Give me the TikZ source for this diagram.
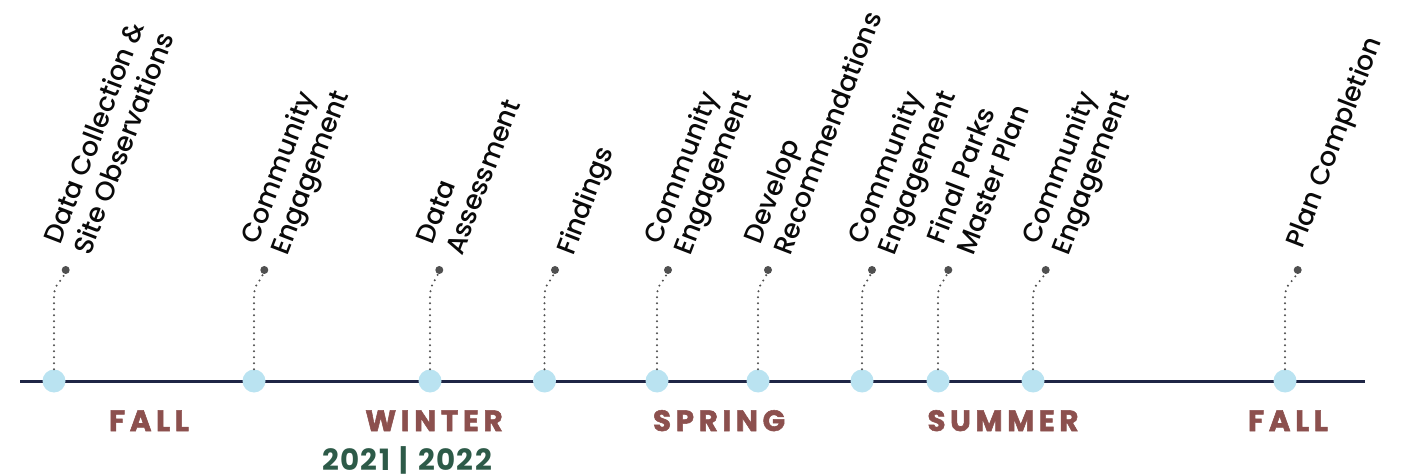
\documentclass[tikz,border=0pt]{standalone}
\usepackage{fontspec}
\setmainfont{Poppins}[UprightFont={* Medium}]
\newfontfamily\seasonfont{Poppins}[LetterSpace=16, BoldFont={* Bold}, BoldFeatures={FakeBold=1.8}]
\newfontfamily\yearfont{Poppins}[LetterSpace=5, BoldFont={* Bold}]

\definecolor{axisnavy}{RGB}{31,38,70}
\definecolor{dotblue}{RGB}{186,227,241}
\definecolor{pingray}{RGB}{80,80,80}
\definecolor{seasonred}{RGB}{140,80,78}
\definecolor{yeargreen}{RGB}{45,90,72}
\definecolor{labelink}{RGB}{10,10,10}

% two stacked lines whose baseline is the lower one
\newcommand{\stacklabel}[2]{\begin{tabular}[b]{@{}l@{}}#1\\#2\end{tabular}}

\begin{document}
\begin{tikzpicture}[x=0.75pt,y=0.75pt,
  milestone/.style={circle, fill=dotblue, minimum size=17.25pt, inner sep=0pt},
  pin/.style={circle, fill=pingray, minimum size=6pt, inner sep=0pt},
  leader/.style={pingray, line width=1.7pt, line cap=round, dash pattern=on 0pt off 4.5pt},
  phase/.style={rotate=69, anchor=base west, inner sep=0pt, text=labelink,
    font=\fontsize{20pt}{23.5pt}\selectfont},
  season/.style={anchor=base, inner sep=0pt, text=seasonred,
    font=\seasonfont\bfseries\fontsize{22pt}{26pt}\selectfont},
  year/.style={anchor=base, inner sep=0pt, text=yeargreen,
    font=\yearfont\bfseries\fontsize{22pt}{26pt}\selectfont}]
\useasboundingbox (0,0) rectangle (1401,475);

% timeline axis
\coordinate (axisL) at (20,94);
\coordinate (axisR) at (1365,94);
\draw[axisnavy, line width=2.25pt] (axisL) -- (axisR);

% milestones, pins and their dotted leaders
\foreach \n/\cx/\px in {1/54/65.7, 2/254/264.3, 3/430/439.3, 4/544.5/555,
                        5/657/668, 6/758/768, 7/862/872, 8/938/948.3,
                        9/1033/1045.7, 10/1285/1297.7}{
  \node[milestone] (m\n) at (\cx,94) {};
  \node[pin] (p\n) at (\px,205) {};
  \coordinate (b\n) at (\cx,178);
  \draw[leader] (m\n) -- (b\n) .. controls +(0,14) and +(-4,-12) .. (p\n);
}

% phase labels
\node[phase] (t1) at (90,218) {\stacklabel{Data Collection \&}{Site Observations}};
\node[phase] (t2) at (287,218) {\stacklabel{Community}{Engagement}};
\node[phase] (t3) at (462,218) {\stacklabel{Data}{Assessment}};
\node[phase] (t4) at (573,218) {Findings};
\node[phase] (t5) at (690,218) {\stacklabel{Community}{Engagement}};
\node[phase] (t6) at (790,218) {\stacklabel{Develop}{Recommendations}};
\node[phase] (t7) at (894,218) {\stacklabel{Community}{Engagement}};
\node[phase] (t8) at (973,218) {\stacklabel{Final Parks}{Master Plan}};
\node[phase] (t9) at (1068,218) {\stacklabel{Community}{Engagement}};
\node[phase] (t10) at (1302,225) {Plan Completion};

% seasons
\node[season] (s1) at (149,44) {FALL};
\node[season] (s2) at (434,44) {WINTER};
\node[season] (s3) at (719,44) {SPRING};
\node[season] (s4) at (1003,44) {SUMMER};
\node[season] (s5) at (1288,44) {FALL};

% years
\node[year] (yr) at (407,5) {2021\,\,|\,\,2022};
\end{tikzpicture}
\end{document}
